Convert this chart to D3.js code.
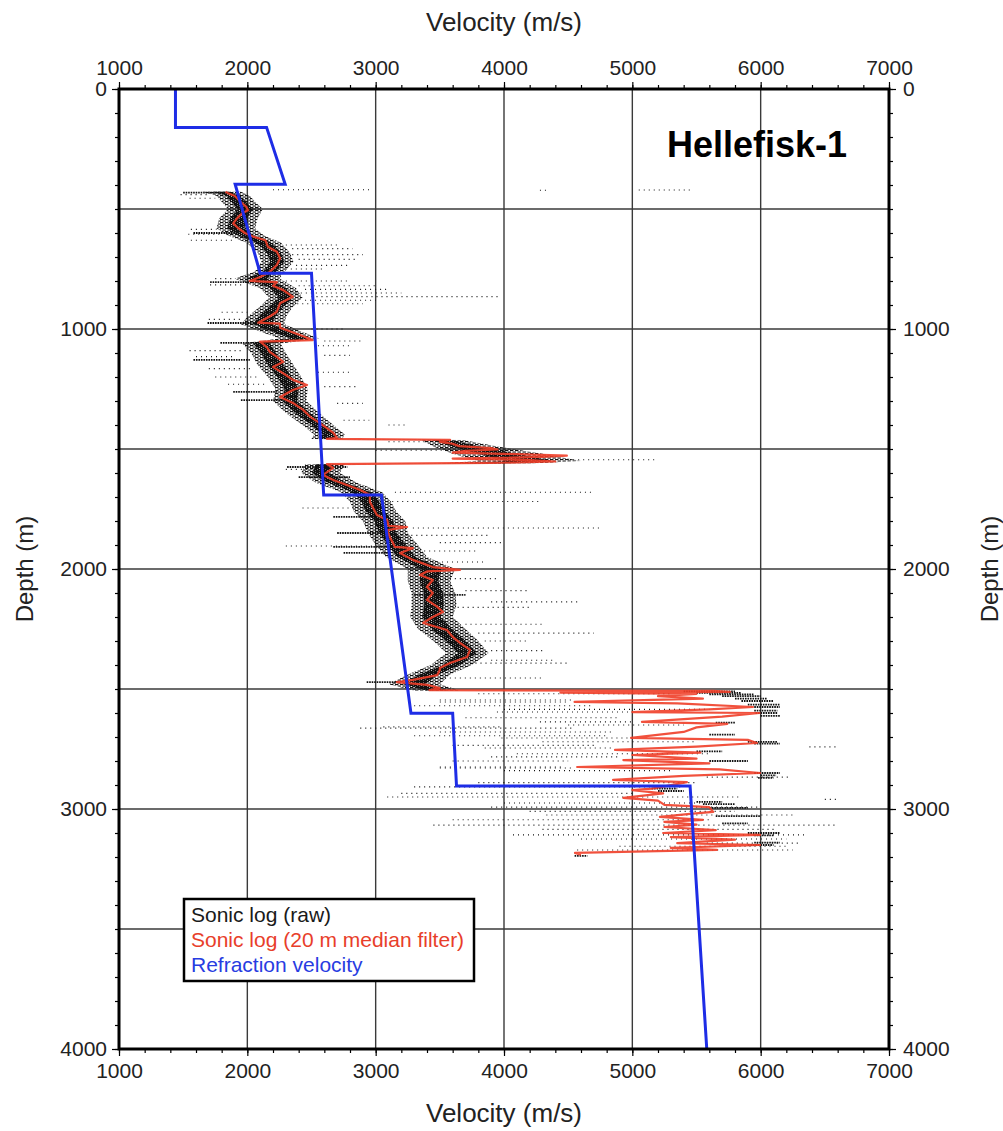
<!DOCTYPE html>
<html>
<head>
<meta charset="utf-8">
<script src="https://cdn.jsdelivr.net/npm/d3@7"></script>
<style>
  html, body { margin: 0; padding: 0; background: #fff; }
  svg { display: block; }
  text { font-family: "Liberation Sans", Arial, Helvetica, sans-serif; }
</style>
</head>
<body>
<svg id="chart" width="1003" height="1131"></svg>
<script>
// ---- Axis ticks ----
const velocityTicks = [1000, 2000, 3000, 4000, 5000, 6000, 7000];
const depthTicks = [0, 1000, 2000, 3000, 4000];
const velocityGrid = [2000, 3000, 4000, 5000, 6000];
const depthGrid = [500, 1000, 1500, 2000, 2500, 3000, 3500];

// ---- Refraction velocity model (depth m, velocity m/s) ----
const refractionDepth    = [0,    160,  160,  397,  397,  768,  768,  1692, 1692, 2601, 2601, 2904, 2904, 4000];
const refractionVelocity = [1440, 1440, 2150, 2295, 1905, 2100, 2500, 2595, 3045, 3275, 3600, 3630, 5450, 5580];

// ---- Sonic log, 20 m median filter ----
const medianDepth = [
  428, 434, 445, 455, 476, 490, 505, 518, 539, 560, 580, 600, 615, 630, 657, 678, 705, 733, 762, 783,
  800, 805, 820, 838, 866, 893, 928, 948, 974, 978, 995, 1025, 1046, 1053, 1074, 1095, 1116, 1137, 1158, 1185,
  1212, 1233, 1254, 1283, 1308, 1337, 1366, 1392, 1413, 1433, 1455, 1458, 1462, 1470, 1478, 1488, 1496, 1502, 1508, 1515,
  1520, 1528, 1533, 1540, 1546, 1552, 1558, 1563, 1579, 1608, 1629, 1650, 1671, 1692, 1720, 1746, 1775, 1796, 1820, 1825,
  1838, 1867, 1892, 1908, 1913, 1933, 1962, 1992, 2004, 2010, 2025, 2046, 2075, 2100, 2129, 2158, 2179, 2200, 2225, 2254,
  2283, 2308, 2337, 2367, 2392, 2412, 2421, 2442, 2462, 2471, 2483, 2496, 2505, 2508, 2512, 2515, 2520, 2530, 2540, 2554,
  2560, 2575, 2585, 2596, 2600, 2615, 2637, 2645, 2660, 2679, 2704, 2712, 2725, 2740, 2754, 2765, 2775, 2790, 2796, 2810,
  2825, 2835, 2850, 2862, 2879, 2888, 2905, 2915, 2921, 2935, 2954, 2965, 2983, 2992, 3012, 3020, 3033, 3045, 3054, 3065,
  3075, 3088, 3100, 3108, 3117, 3128, 3142, 3150, 3162, 3170, 3183, 3190
];
const medianVelocity = [
  1830, 1850, 1900, 1920, 1960, 1990, 2005, 1960, 1920, 1890, 1930, 1980, 2045, 2140, 2160, 2230, 2255, 2230, 2175, 2100,
  2020, 2230, 2200, 2280, 2355, 2255, 2230, 2175, 2085, 2255, 2255, 2410, 2510, 2100, 2150, 2175, 2230, 2280, 2200, 2280,
  2355, 2465, 2355, 2255, 2355, 2435, 2490, 2565, 2620, 2670, 2700, 2620, 3580, 3500, 3600, 3650, 3900, 3950, 3700, 3600,
  4000, 4490, 4300, 3600, 4200, 4400, 3900, 2620, 2670, 2590, 2670, 2775, 2880, 2955, 2955, 2980, 3010, 3090, 3100, 3245,
  3090, 3110, 3135, 3150, 3290, 3190, 3290, 3445, 3657, 3400, 3345, 3445, 3400, 3445, 3400, 3480, 3525, 3445, 3370, 3555,
  3600, 3657, 3735, 3712, 3580, 3500, 3500, 3480, 3290, 3165, 3400, 3500, 3420, 5630, 5760, 4440, 5500, 5200, 5550, 4550,
  5350, 5940, 5600, 5000, 5990, 5700, 5075, 5740, 5500, 5400, 4990, 5900, 5970, 5500, 4865, 5530, 5000, 5500, 4930, 5600,
  4570, 5680, 5995, 5400, 4850, 5425, 5260, 5150, 5000, 5240, 4930, 5200, 5250, 5600, 5630, 5450, 5215, 5550, 5250, 5500,
  5250, 5650, 5240, 5995, 5300, 5800, 5350, 5995, 5300, 5660, 4553, 4600
];

// ---- Sonic log (raw): envelope of the dense sample cloud ----
const rawCoreDepth = [
  428, 445, 470, 500, 540, 580, 610, 640, 680, 720, 760, 790, 830, 870, 910, 950, 980, 1010, 1040, 1060,
  1100, 1150, 1200, 1250, 1300, 1350, 1400, 1440, 1458, 1462, 1490, 1520, 1550, 1560, 1564, 1600, 1640, 1680, 1720, 1760,
  1800, 1850, 1900, 1950, 2000, 2050, 2100, 2150, 2200, 2250, 2300, 2350, 2400, 2440, 2480, 2500, 2506
];
const rawCoreMin = [
  1650, 1760, 1800, 1850, 1780, 1760, 1850, 1990, 2080, 2110, 2060, 1900, 2100, 2170, 2090, 2000, 1950, 2100, 2250, 1960,
  2030, 2080, 2160, 2220, 2200, 2300, 2430, 2520, 2500, 3350, 3450, 3600, 3800, 3500, 2450, 2420, 2530, 2730, 2800, 2830,
  2900, 2940, 3000, 3080, 3250, 3250, 3280, 3280, 3270, 3330, 3450, 3550, 3430, 3250, 3100, 3250, 3300
];
const rawCoreMax = [
  1950, 2020, 2060, 2120, 2080, 2060, 2130, 2260, 2330, 2360, 2290, 2250, 2380, 2430, 2350, 2300, 2290, 2420, 2560, 2260,
  2300, 2360, 2420, 2470, 2460, 2560, 2670, 2760, 2740, 3680, 3950, 4300, 4600, 4200, 2760, 2720, 2850, 3050, 3120, 3160,
  3230, 3250, 3330, 3400, 3620, 3580, 3620, 3630, 3600, 3700, 3800, 3880, 3750, 3580, 3500, 3620, 3650
];

// ---- Sonic log (raw): dense streaks of samples [depth, vFrom, vTo] ----
const rawClusterRows = [
  [432, 1500, 1840], [600, 1580, 1920], [805, 1710, 2100], [975, 1690, 2075], [1058, 1790, 2180],
  [1129, 1580, 2020], [1262, 1890, 2230], [1296, 1950, 2300], [1575, 2310, 2780], [1617, 2400, 2800],
  [1783, 2670, 2980], [1850, 2700, 3060], [1908, 2670, 3135], [1933, 2750, 3100], [2108, 3300, 3700],
  [2471, 2930, 3165],
  [2510, 5400, 5800], [2516, 5500, 5850], [2522, 5600, 5950], [2530, 5700, 6000], [2540, 5800, 6050],
  [2550, 5850, 6100], [2565, 5900, 6150], [2575, 5950, 6150], [2590, 5950, 6130], [2600, 5960, 6130],
  [2612, 6000, 6150], [2640, 5650, 5800], [2690, 5600, 5800], [2720, 5900, 6130], [2728, 5950, 6150],
  [2760, 5500, 5700], [2800, 5600, 5900], [2850, 5950, 6150], [2860, 6000, 6120], [2870, 5980, 6100],
  [2915, 5150, 5350], [2925, 5200, 5400], [2970, 5500, 5700], [2980, 5550, 5800], [2995, 5600, 5900],
  [3030, 5650, 6000], [3060, 5700, 5900], [3100, 5900, 6150], [3110, 5950, 6100], [3140, 5950, 6150],
  [3150, 5900, 6100], [3195, 4550, 4650]
];

// ---- Sonic log (raw): scattered outlier samples [depth, vFrom, vTo] ----
const rawSparseRows = [
  [420, 2200, 2950], [422, 4280, 4340], [421, 5050, 5450], [440, 1480, 1700], [455, 1550, 1750],
  [585, 1560, 1760], [605, 1540, 1800], [630, 1560, 1900], [650, 2300, 2700], [665, 2350, 2820],
  [690, 2350, 2900], [710, 2400, 2850], [735, 2380, 2780], [750, 2300, 2600], [790, 1750, 1900], [816, 1710, 1970],
  [800, 2300, 2800], [820, 2400, 3000], [835, 2450, 3100], [850, 2300, 3200], [865, 2500, 3950],
  [880, 2450, 3000], [895, 2350, 2900], [930, 1800, 2000], [960, 1700, 1950],
  [1000, 2500, 2750], [1050, 2600, 2900], [1070, 2550, 2800], [1090, 1550, 1950], [1115, 1600, 1900],
  [1165, 1700, 2050], [1200, 1750, 2100], [1230, 1850, 2150],
  [1110, 2600, 2800], [1180, 2550, 2800], [1240, 2600, 2850], [1310, 2700, 2900],
  [1380, 2750, 2950], [1400, 3100, 3250], [1470, 3100, 3400], [1505, 3000, 3900], [1545, 4500, 5200],
  [1585, 2300, 2500], [1680, 3150, 4700], [1719, 3090, 4280], [1746, 2430, 2930], [1829, 3290, 4770],
  [1860, 3200, 3900], [1904, 2300, 3300], [1890, 3500, 4000], [1925, 3300, 3800], [1971, 3400, 3850],
  [2040, 3500, 3950], [2090, 3700, 4200], [2137, 3900, 4600], [2160, 3600, 4200], [2230, 3700, 4300],
  [2267, 3800, 4700], [2300, 3850, 4200], [2340, 3900, 4300], [2380, 3900, 4400], [2392, 3700, 4500],
  [2454, 3500, 4300],
  [2520, 3800, 5300], [2546, 3500, 4540], [2554, 3500, 4490], [2570, 3300, 4700], [2585, 4000, 5600],
  [2596, 3945, 4980], [2620, 3700, 4900], [2637, 4280, 5010], [2650, 4500, 5400], [2658, 3060, 3990],
  [2663, 2880, 4540], [2679, 3500, 4850], [2695, 3300, 4800], [2704, 3980, 5000], [2720, 4300, 5500],
  [2735, 3600, 4700], [2741, 6380, 6600], [2746, 3850, 4850], [2770, 4100, 5600], [2783, 3900, 4900],
  [2800, 3600, 4500], [2825, 3500, 4450], [2829, 3500, 4540], [2840, 4000, 5300], [2867, 5580, 6230],
  [2890, 3800, 5500], [2908, 3300, 5400], [2935, 3200, 5000], [2950, 3090, 5840], [2960, 6500, 6600],
  [2975, 4000, 5700], [2992, 3900, 6000], [3010, 4200, 5800], [3025, 4330, 6250], [3045, 3600, 5600],
  [3067, 3450, 6600], [3085, 4300, 6100], [3108, 4070, 6360], [3125, 4600, 6200], [3142, 5580, 6300],
  [3155, 4900, 6200], [3171, 4570, 6250]
];

// ---- Layout ----
const svg = d3.select("#chart");
const plot = { left: 119, right: 889, top: 89, bottom: 1049 };

const x = d3.scaleLinear().domain([1000, 7000]).range([plot.left, plot.right]);
const y = d3.scaleLinear().domain([0, 4000]).range([plot.top, plot.bottom]);

const defs = svg.append("defs");
// textures for the raw sonic samples: staggered short horizontal dashes
function dashPattern(id, w, h, dash, thick) {
  const p = defs.append("pattern").attr("id", id)
    .attr("patternUnits", "userSpaceOnUse").attr("width", w).attr("height", h);
  [[0, 0], [w / 2, h / 2], [-w / 2, h / 2]].forEach(([px, py]) =>
    p.append("rect").attr("x", px).attr("y", py).attr("width", dash).attr("height", thick).attr("fill", "#111"));
}
dashPattern("rawTexture", 5, 3, 3.4, 1.1);
dashPattern("rawTextureDense", 4, 2, 3.2, 1.2);

defs.append("clipPath").attr("id", "plotClip")
  .append("rect")
  .attr("x", plot.left).attr("y", plot.top)
  .attr("width", plot.right - plot.left).attr("height", plot.bottom - plot.top);

// ---- Grid ----
const grid = svg.append("g").attr("stroke", "#3a3a3a").attr("stroke-width", 1.4);
grid.selectAll("line.v").data(velocityGrid).join("line")
  .attr("x1", d => x(d)).attr("x2", d => x(d))
  .attr("y1", plot.top).attr("y2", plot.bottom);
grid.selectAll("line.h").data(depthGrid).join("line")
  .attr("y1", d => y(d)).attr("y2", d => y(d))
  .attr("x1", plot.left).attr("x2", plot.right);

const data = svg.append("g").attr("clip-path", "url(#plotClip)");

// ---- Raw sonic log ----
const coreData = rawCoreDepth.map((d, i) => ({ depth: d, lo: rawCoreMin[i], hi: rawCoreMax[i] }));
data.append("path")
  .datum(coreData)
  .attr("fill", "url(#rawTexture)")
  .attr("d", d3.area()
    .y(d => y(d.depth))
    .x0(d => x(d.lo))
    .x1(d => x(d.hi)));
// the middle part of the cloud is the most densely sampled
data.append("path")
  .datum(coreData)
  .attr("fill", "url(#rawTextureDense)")
  .attr("d", d3.area()
    .y(d => y(d.depth))
    .x0(d => x(d.lo + 0.28 * (d.hi - d.lo)))
    .x1(d => x(d.hi - 0.28 * (d.hi - d.lo))));

data.append("g")
  .attr("stroke", "#111").attr("stroke-width", 1.1).attr("stroke-dasharray", "1,4")
  .selectAll("line").data(rawSparseRows).join("line")
  .attr("x1", d => x(d[1])).attr("x2", d => x(d[2]))
  .attr("y1", d => y(d[0])).attr("y2", d => y(d[0]));

data.append("g")
  .attr("stroke", "#111").attr("stroke-width", 1.8).attr("stroke-dasharray", "1.6,0.9")
  .selectAll("line").data(rawClusterRows).join("line")
  .attr("x1", d => x(d[1])).attr("x2", d => x(d[2]))
  .attr("y1", d => y(d[0])).attr("y2", d => y(d[0]));

// ---- Median filtered log ----
const medianData = medianDepth.map((d, i) => ({ depth: d, v: medianVelocity[i] }));
const line = d3.line().x(d => x(d.v)).y(d => y(d.depth));
data.append("path")
  .datum(medianData)
  .attr("fill", "none")
  .attr("stroke", "rgb(240,62,40)")
  .attr("stroke-width", 2.2)
  .attr("stroke-opacity", 0.9)
  .attr("stroke-linejoin", "round")
  .attr("d", line);

// ---- Refraction velocity ----
const refrData = refractionDepth.map((d, i) => ({ depth: d, v: refractionVelocity[i] }));
data.append("path")
  .datum(refrData)
  .attr("fill", "none")
  .attr("stroke", "rgb(30,45,230)")
  .attr("stroke-width", 3)
  .attr("d", line);

// ---- Frame ----
svg.append("rect")
  .attr("x", plot.left).attr("y", plot.top)
  .attr("width", plot.right - plot.left).attr("height", plot.bottom - plot.top)
  .attr("fill", "none").attr("stroke", "#000").attr("stroke-width", 3);

// ---- Axes ----
const minorV = d3.range(1000, 7001, 200);
const minorD = d3.range(0, 4001, 100);
function styleAxis(g) {
  g.select(".domain").remove();
  g.selectAll(".tick line").attr("stroke", "#000").attr("stroke-width", 1.2);
  g.selectAll(".tick text").attr("fill", "#222").style("font-size", "21px")
    .style("font-family", "'Liberation Sans', Arial, sans-serif");
}
// minor ticks
svg.append("g").attr("transform", `translate(0,${plot.top})`)
  .call(d3.axisTop(x).tickValues(minorV).tickSize(4).tickFormat("")).call(styleAxis);
svg.append("g").attr("transform", `translate(0,${plot.bottom})`)
  .call(d3.axisBottom(x).tickValues(minorV).tickSize(4).tickFormat("")).call(styleAxis);
svg.append("g").attr("transform", `translate(${plot.left},0)`)
  .call(d3.axisLeft(y).tickValues(minorD).tickSize(4).tickFormat("")).call(styleAxis);
svg.append("g").attr("transform", `translate(${plot.right},0)`)
  .call(d3.axisRight(y).tickValues(minorD).tickSize(4).tickFormat("")).call(styleAxis);
// major ticks and labels
svg.append("g").attr("transform", `translate(0,${plot.top})`)
  .call(d3.axisTop(x).tickValues(velocityTicks).tickSize(7).tickPadding(7).tickFormat(d3.format("d"))).call(styleAxis);
svg.append("g").attr("transform", `translate(0,${plot.bottom})`)
  .call(d3.axisBottom(x).tickValues(velocityTicks).tickSize(7).tickPadding(7).tickFormat(d3.format("d"))).call(styleAxis);
svg.append("g").attr("transform", `translate(${plot.left},0)`)
  .call(d3.axisLeft(y).tickValues(depthTicks).tickSize(7).tickPadding(5).tickFormat(d3.format("d"))).call(styleAxis);
svg.append("g").attr("transform", `translate(${plot.right},0)`)
  .call(d3.axisRight(y).tickValues(depthTicks).tickSize(7).tickPadding(7).tickFormat(d3.format("d"))).call(styleAxis);

// ---- Axis titles ----
const titleStyle = (sel, size) => sel.attr("fill", "#222").style("font-size", size).attr("text-anchor", "middle");
svg.append("text").attr("x", (plot.left + plot.right) / 2).attr("y", 31).text("Velocity (m/s)").call(titleStyle, "26px");
svg.append("text").attr("x", (plot.left + plot.right) / 2).attr("y", 1122).text("Velocity (m/s)").call(titleStyle, "26px");
svg.append("text").attr("transform", `translate(33,${(plot.top + plot.bottom) / 2}) rotate(-90)`)
  .text("Depth (m)").call(titleStyle, "24px");
svg.append("text").attr("transform", `translate(998,${(plot.top + plot.bottom) / 2}) rotate(-90)`)
  .text("Depth (m)").call(titleStyle, "24px");

// ---- Well name ----
svg.append("text").attr("x", 757).attr("y", 157).attr("text-anchor", "middle")
  .attr("fill", "#000").style("font-size", "36px").style("font-weight", "bold")
  .text("Hellefisk-1");

// ---- Legend ----
const legendItems = [
  { label: "Sonic log (raw)", color: "#1a1a1a" },
  { label: "Sonic log (20 m median filter)", color: "rgb(232,62,42)" },
  { label: "Refraction velocity", color: "rgb(40,60,225)" }
];
const lg = svg.append("g");
lg.append("rect").attr("x", 184).attr("y", 899).attr("width", 290).attr("height", 82)
  .attr("fill", "#fff").attr("stroke", "#000").attr("stroke-width", 2.5);
lg.selectAll("text").data(legendItems).join("text")
  .attr("x", 191).attr("y", (d, i) => 922 + i * 25)
  .attr("fill", d => d.color).style("font-size", "21px")
  .text(d => d.label);
</script>
</body>
</html>
